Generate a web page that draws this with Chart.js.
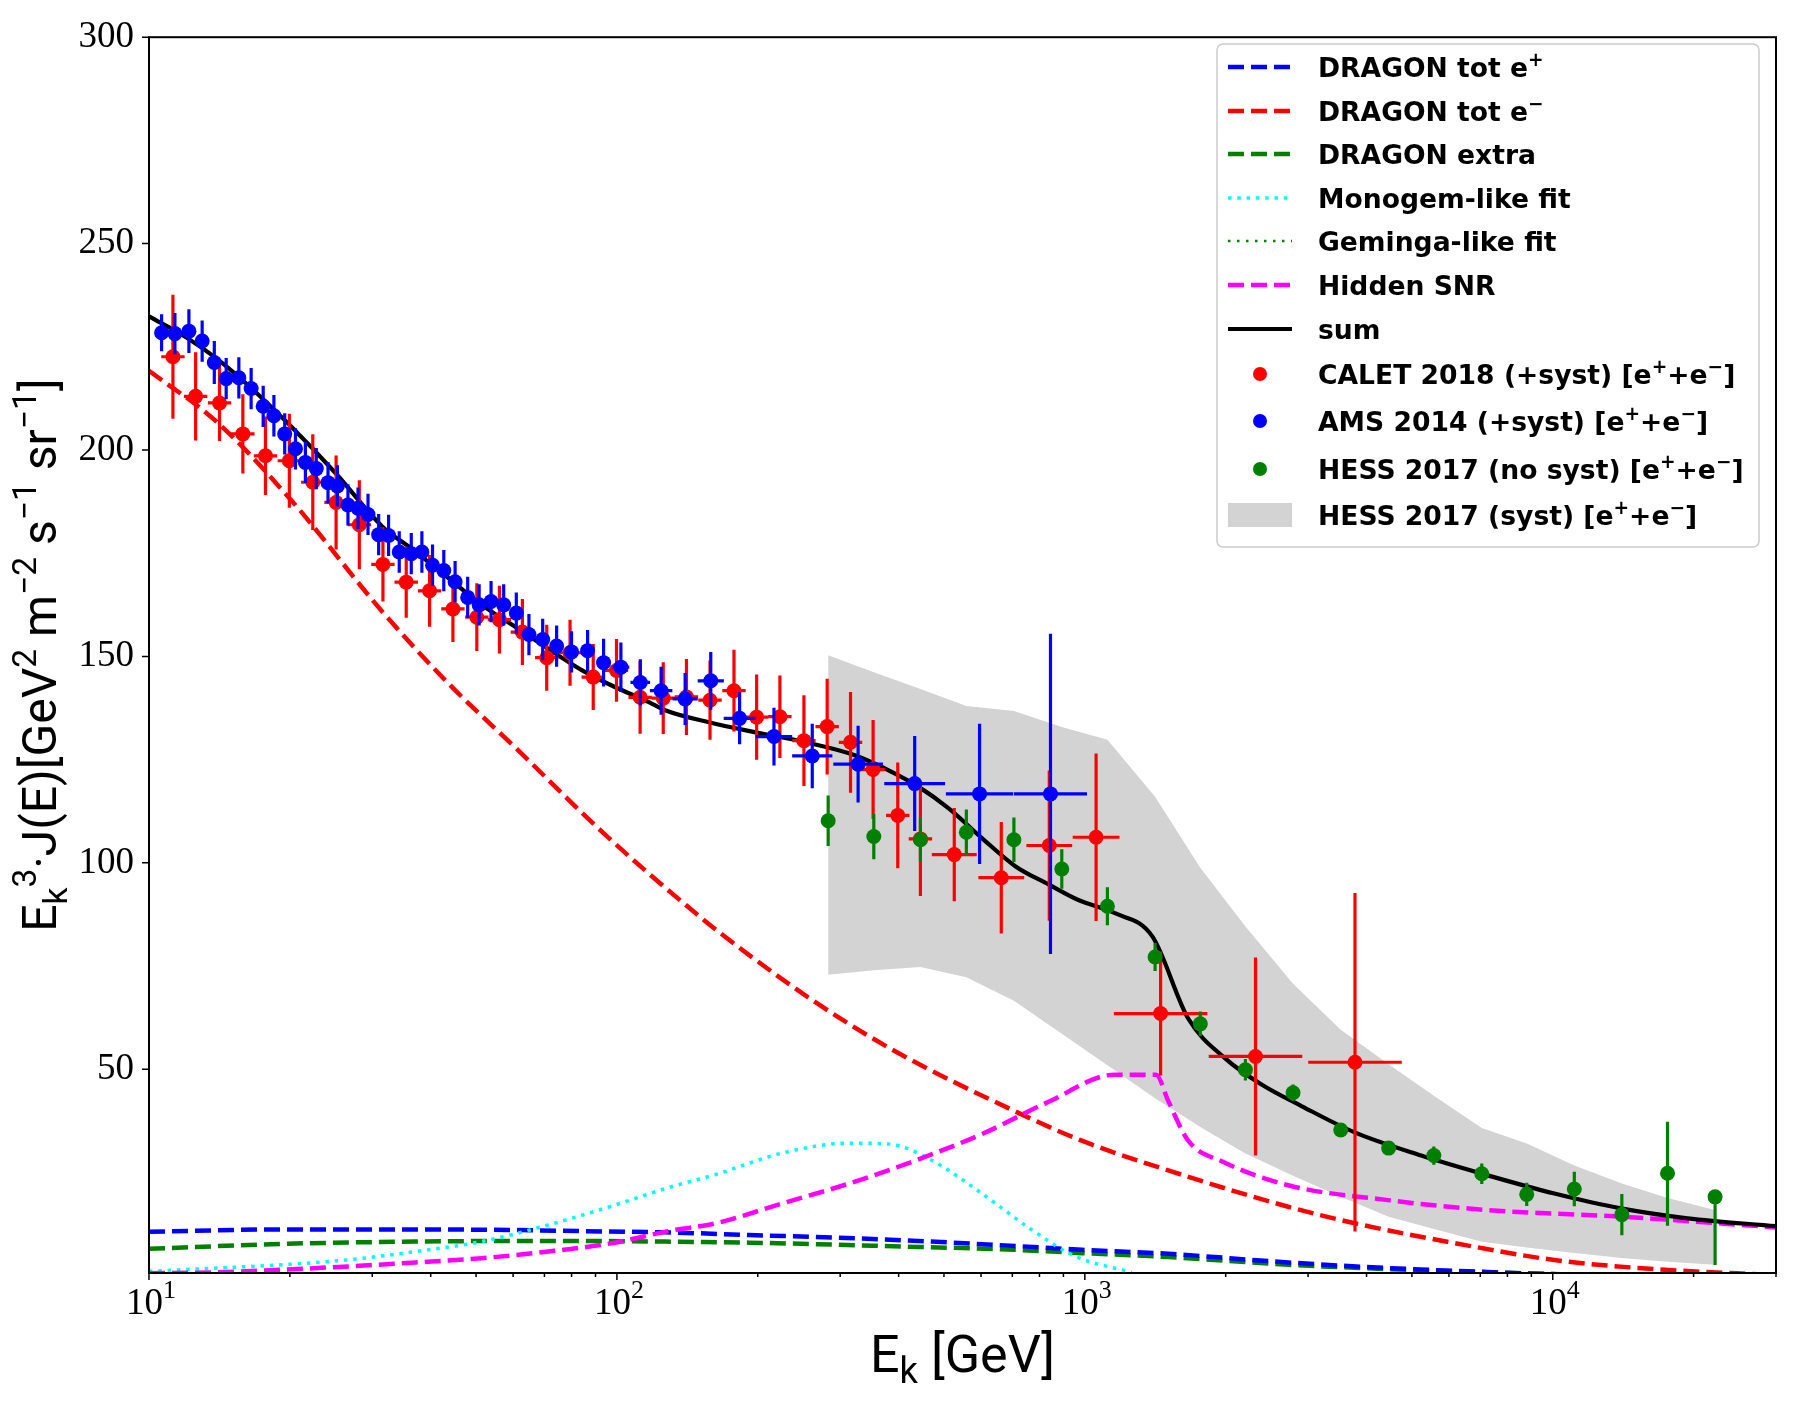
<!DOCTYPE html>
<html>
<head>
<meta charset="utf-8">
<title>Ek^3 J(E)</title>
<script src="https://cdn.jsdelivr.net/npm/chart.js@4.4.1/dist/chart.umd.min.js"></script>
<style>
  html, body { margin: 0; padding: 0; background: #fff; }
  canvas { display: block; }
</style>
</head>
<body>
<canvas id="spectrum" width="1799" height="1401" style="width:1799px;height:1401px"></canvas>
<script>
// axis ticks
const xTickValues = [10, 100, 1000, 10000];
const yTickValues = [50, 100, 150, 200, 250, 300];
const xMin = 10, xMax = 30000, yMin = 0.65, yMax = 300;

// AMS 2014 (+syst) e+ + e-
const amsE = [10.64, 11.36, 12.17, 12.99, 13.79, 14.62, 15.56, 16.53, 17.54, 18.49,
  19.50, 20.56, 21.59, 22.78, 24.13, 25.27, 26.62, 27.97, 29.38, 30.96,
  32.51, 34.26, 36.35, 38.30, 40.36, 42.66, 45.10, 47.98, 50.76, 53.83,
  57.28, 60.95, 64.86, 69.40, 74.33, 79.98, 86.57, 93.65, 101.98, 112.2,
  124.3, 139.9, 158.7, 182.9, 216.6, 261.5, 327.7, 432.9, 595.7, 844.5];
const amsFlux = [228.4, 228.2, 228.8, 226.4, 221.2, 217.3, 217.5, 214.9, 210.6, 208.3,
  203.9, 200.3, 197.0, 195.5, 192.1, 191.3, 186.7, 185.9, 184.4, 179.5,
  179.3, 175.3, 174.9, 175.3, 172.1, 170.8, 168.1, 164.3, 162.5, 163.3,
  162.5, 160.5, 155.3, 154.1, 152.5, 151.1, 151.4, 148.5, 147.4, 143.7,
  141.7, 139.7, 144.1, 135.0, 130.6, 125.9, 123.9, 119.2, 116.7, 116.7];
const amsErr = [4.5, 5, 5.3, 5, 5.2, 5, 5, 5, 5, 5,
  5, 5, 5, 5, 5, 5, 5, 5, 5, 5,
  5, 5, 5, 5, 5, 5, 5, 5, 5, 5,
  5, 5, 5, 5, 5, 5, 5, 5.8, 6, 5.6,
  5.8, 6.3, 7, 6.3, 7, 7.8, 9.3, 11.5, 17, 38.8];
// half bin width, in decades
const amsBin = [0.012, 0.012, 0.012, 0.012, 0.012, 0.012, 0.012, 0.012, 0.012, 0.012,
  0.012, 0.012, 0.012, 0.012, 0.012, 0.012, 0.012, 0.012, 0.012, 0.012,
  0.012, 0.012, 0.012, 0.012, 0.012, 0.012, 0.012, 0.012, 0.012, 0.012,
  0.012, 0.012, 0.012, 0.012, 0.012, 0.012, 0.012, 0.015, 0.018, 0.021,
  0.024, 0.027, 0.028, 0.034, 0.039, 0.043, 0.053, 0.065, 0.072, 0.078];

// CALET 2018 (+syst) e+ + e-
const calE = [11.25, 12.58, 14.15, 15.87, 17.74, 19.95, 22.39, 25.11, 28.15, 31.62,
  35.46, 39.78, 44.62, 50.19, 56.1, 62.8, 70.8, 79.4, 89.0, 99.8,
  112.1, 125.6, 140.8, 158.1, 177.9, 198.9, 223.0, 251.0, 281.4, 315.7,
  352.8, 398.3, 445.3, 526.0, 662.9, 839.5, 1057, 1452, 2316, 3779];
const calFlux = [222.6, 213.0, 211.4, 203.9, 198.6, 197.4, 192.2, 187.3, 181.9, 172.3,
  168.0, 165.9, 161.5, 159.5, 158.9, 155.9, 149.7, 150.9, 145.0, 146.6,
  140.1, 139.9, 140.2, 139.4, 141.7, 135.3, 135.4, 129.6, 133.0, 129.2,
  122.6, 111.5, 105.8, 102.0, 96.4, 104.2, 106.2, 63.5, 53.1, 51.7];
const calErr = [15, 10.7, 9.2, 9.6, 9.5, 11.4, 11.6, 11.4, 10.8, 9,
  8.6, 8.7, 8, 8.2, 8.2, 8, 8, 8, 8, 7.6,
  8.8, 8.7, 9.2, 9.6, 9.9, 10.3, 10, 11, 11.6, 12.2,
  12, 12.8, 13.8, 11.3, 13.5, 18.2, 20.3, 15, 24, 41];
const calBin = [0.025, 0.025, 0.025, 0.025, 0.025, 0.025, 0.025, 0.025, 0.025, 0.025,
  0.025, 0.025, 0.025, 0.025, 0.025, 0.025, 0.025, 0.025, 0.025, 0.025,
  0.025, 0.025, 0.025, 0.025, 0.025, 0.025, 0.025, 0.025, 0.025, 0.025,
  0.025, 0.025, 0.025, 0.048, 0.049, 0.049, 0.05, 0.1, 0.1, 0.1];

// HESS 2017 e+ + e-
const hessE = [282.8, 354.0, 445.3, 558.2, 705.4, 892.8, 1117.5, 1413, 1765, 2204,
  2786, 3523, 4459, 5570, 7052, 8798, 11120, 14050, 17590, 22230];
const hessFlux = [110.2, 106.4, 105.6, 107.4, 105.6, 98.5, 89.5, 77.2, 61.0, 49.9,
  44.3, 35.3, 30.9, 29.1, 24.7, 19.7, 21.0, 14.8, 24.8, 19.1];
const hessErrLo = [6.1, 5.5, 5.3, 5.5, 5.4, 4.8, 4.6, 3.4, 3, 2.6,
  2, 1.5, 1.5, 2.2, 2.5, 2.8, 4.2, 5, 12.7, 16.5];
const hessErrHi = [6.1, 5.5, 5.3, 5.5, 5.4, 4.8, 4.6, 3.4, 3, 2.6,
  2, 1.5, 1.5, 2.2, 2.5, 2.8, 4.2, 5, 12.5, 1.0];
const hessSystHi = [150.3, 146.2, 142.1, 138.0, 136.8, 132.9, 129.8, 116, 98.8, 84.6,
  70.7, 59.6, 51.2, 43.6, 35.8, 32.0, 26.7, 22.3, 18.8, 15.9];
const hessSystLo = [72.9, 74.0, 74.8, 72.3, 66.6, 58.6, 51.0, 43.0, 36.0, 29.6,
  24.2, 19.1, 14.3, 11.3, 8.2, 6.8, 5.5, 4.3, 3.4, 2.65];

// model curves
const sumE = [10, 12, 14, 16.35, 20.2, 25, 31.5, 36.5, 43.65, 51.4,
  60.6, 71.4, 84.1, 99.0, 116.7, 127.2, 157.3, 198, 253, 323.5,
  387.3, 441.6, 511.7, 602.6, 710, 836, 969, 1160, 1394, 1663,
  1992, 2386, 2904, 3773, 5235, 7263, 10080, 13985, 19410, 30000];
const sumFlux = [232.4, 227.3, 222.0, 215.5, 205.5, 194.5, 181.5, 176.0, 169.0, 162.5,
  157.2, 151.8, 146.7, 142.6, 139.0, 136.9, 134.05, 131.6, 129.2, 126.0,
  122.0, 118.4, 113.2, 106.0, 99.2, 94.8, 91.0, 87.8, 82.2, 62.3,
  52.7, 46.3, 41.1, 34.7, 29.1, 24.3, 19.9, 16.3, 13.9, 12.0];

const elecE = [10, 13.9, 19.9, 31.5, 43.6, 61.6, 93, 151, 192, 270,
  394, 710, 985, 1508, 2720, 3774, 6166, 10080, 16480, 29510];
const elecFlux = [219.2, 207.0, 188.5, 160.9, 143.5, 127.2, 107.5, 86.8, 77.6, 65.7,
  54.3, 39.8, 32.7, 25.5, 16.7, 12.7, 7.9, 3.8, 1.6, 0.2];

const dragonE = [10, 19.25, 37.1, 60.6, 84.1, 126.6, 191.6, 368.8, 710, 985,
  1508, 2720, 4445, 8556, 11500];
const posiFlux = [10.66, 11.2, 11.2, 11.06, 10.8, 10.5, 9.86, 8.8, 7.2, 6.26,
  5.3, 3.2, 1.85, 0.6, 0.2];
const extraFlux = [6.5, 7.7, 8.26, 8.4, 8.4, 8.26, 8.0, 7.2, 6.26, 5.46,
  4.5, 2.65, 1.6, 0.6, 0.2];

const monogemE = [10, 13.9, 19.25, 26.7, 37.1, 51.4, 71.4, 99, 128.7, 162.6,
  225.6, 313.2, 381, 471.7, 602.7, 770.5, 953.4, 1260];
const monogemFlux = [1.05, 1.85, 2.65, 3.85, 5.85, 8.26, 12.3, 17.1, 21.3, 24.5,
  29.7, 32.1, 31.9, 27.9, 19.9, 11.1, 4.7, 0.8];

const gemingaE = [];
const gemingaFlux = [];

const snrE = [10, 13.9, 19.25, 26.7, 37.1, 51.4, 71.4, 99, 128.7, 162.6,
  225.6, 313.2, 434.5, 602.7, 836, 1160, 1420, 1508, 1663, 1972,
  2720, 4445, 7263, 13985, 30000];
const snrFlux = [0.6, 0.8, 1.45, 2.25, 3.2, 4.25, 5.85, 8.0, 10.8, 12.7,
  17.5, 22.3, 27.9, 34.3, 42.1, 48.7, 48.7, 42.3, 32.7, 27.6,
  21.9, 18.3, 15.9, 14.3, 11.7];

// --- helpers ---
const toXY = (xs, ys) => xs.map((x, i) => ({ x: x, y: ys[i] }));

function curve(label, xs, ys, color, dash, width, order) {
  return {
    label: label, data: toXY(xs, ys), showLine: true,
    borderColor: color, backgroundColor: color, borderDash: dash, borderWidth: width,
    borderCapStyle: 'butt', pointRadius: 0, cubicInterpolationMode: 'monotone',
    fill: false, order: order
  };
}

function points(label, xs, ys, color, errLo, errHi, bin, order) {
  return {
    label: label, data: toXY(xs, ys), showLine: false,
    borderColor: color, backgroundColor: color, pointBackgroundColor: color,
    pointBorderWidth: 0, pointRadius: 7.5, errLo: errLo, errHi: errHi, bin: bin, order: order
  };
}

// small rich text: ^{..} superscript, _{..} subscript
function richParts(str) {
  const parts = [];
  const re = /([\^_])\{([^}]*)\}/g;
  let last = 0, m;
  while ((m = re.exec(str))) {
    if (m.index > last) parts.push({ t: str.slice(last, m.index), k: '' });
    parts.push({ t: m[2], k: m[1] });
    last = re.lastIndex;
  }
  if (last < str.length) parts.push({ t: str.slice(last), k: '' });
  return parts;
}
function richFont(k, f) {
  return (f.weight || 'normal') + ' ' + (k ? f.size * 0.7 : f.size) + 'px ' + f.family;
}
function richWidth(ctx, str, f) {
  let w = 0;
  for (const p of richParts(str)) { ctx.font = richFont(p.k, f); w += ctx.measureText(p.t).width; }
  return w;
}
function drawRich(ctx, str, x, y, f) {
  let cx = x;
  ctx.textAlign = 'left';
  ctx.textBaseline = 'alphabetic';
  for (const p of richParts(str)) {
    ctx.font = richFont(p.k, f);
    const dy = p.k === '^' ? -f.size * 0.42 : (p.k === '_' ? f.size * 0.22 : 0);
    ctx.fillText(p.t, cx, y + dy);
    cx += ctx.measureText(p.t).width;
  }
}

// error bars, drawn just under each data set's points
const errorBarPlugin = {
  id: 'errorBars',
  beforeDatasetDraw(chart, args) {
    const ds = chart.data.datasets[args.index];
    if (!ds.errLo) return;
    const { ctx, chartArea: a, scales: { x, y } } = chart;
    ctx.save();
    ctx.beginPath();
    ctx.rect(a.left, a.top, a.right - a.left, a.bottom - a.top);
    ctx.clip();
    ctx.strokeStyle = ds.borderColor;
    ctx.lineWidth = 3.2;
    ctx.beginPath();
    ds.data.forEach((p, i) => {
      const px = x.getPixelForValue(p.x);
      const py = y.getPixelForValue(p.y);
      ctx.moveTo(px, y.getPixelForValue(p.y - ds.errLo[i]));
      ctx.lineTo(px, y.getPixelForValue(p.y + ds.errHi[i]));
      if (ds.bin) {
        const f = Math.pow(10, ds.bin[i]);
        ctx.moveTo(x.getPixelForValue(p.x / f), py);
        ctx.lineTo(x.getPixelForValue(p.x * f), py);
      }
    });
    ctx.stroke();
    ctx.restore();
  }
};

// frame, ticks, tick labels and axis titles
const tickFont = { family: '"Liberation Serif", "DejaVu Serif", serif', size: 37 };
const titleFont = { family: 'Roboto, "Liberation Sans", sans-serif', size: 48 };
const xTitleFont = { family: 'Roboto, "Liberation Sans", sans-serif', size: 52 };
const framePlugin = {
  id: 'frame',
  afterDraw(chart) {
    const { ctx, chartArea: a, scales: { x, y } } = chart;
    ctx.save();
    ctx.strokeStyle = '#000';
    ctx.fillStyle = '#000';
    ctx.lineWidth = 2;
    ctx.strokeRect(a.left, a.top, a.right - a.left, a.bottom - a.top);

    ctx.lineWidth = 1.5;
    ctx.beginPath();
    for (let d = 1; d <= 4; d++) {
      for (let m = 1; m < 10; m++) {
        const v = m * Math.pow(10, d);
        if (v > x.max) break;
        const px = x.getPixelForValue(v);
        ctx.moveTo(px, a.bottom);
        ctx.lineTo(px, a.bottom + (m === 1 ? 7 : 4));
      }
    }
    for (const v of yTickValues) {
      const py = y.getPixelForValue(v);
      ctx.moveTo(a.left - 7, py);
      ctx.lineTo(a.left, py);
    }
    ctx.stroke();

    for (const v of xTickValues) {
      const s = '10^{' + Math.round(Math.log10(v)) + '}';
      const w = richWidth(ctx, s, tickFont);
      drawRich(ctx, s, x.getPixelForValue(v) - w / 2 + 2, a.bottom + 41, tickFont);
    }

    const xt = 'E_{k} [GeV]';
    const xw = richWidth(ctx, xt, xTitleFont);
    drawRich(ctx, xt, (a.left + a.right) / 2 - xw / 2, 1372, xTitleFont);

    const yt = 'E_{k}^{3}·J(E)[GeV^{2} m^{−2} s^{−1} sr^{−1}]';
    const yw = richWidth(ctx, yt, titleFont);
    ctx.translate(56, (a.top + a.bottom) / 2);
    ctx.rotate(-Math.PI / 2);
    drawRich(ctx, yt, -yw / 2, 0, titleFont);
    ctx.restore();
  }
};

// legend box in the upper right corner
const legendFont = { family: '"DejaVu Sans", sans-serif', size: 26.6, weight: 'bold' };
const legendPlugin = {
  id: 'cornerLegend',
  afterDraw(chart) {
    const ctx = chart.ctx;
    const box = { left: 1217, top: 44, right: 1759, bottom: 547 };
    const rows = [67, 111, 154, 198, 241, 285, 329, 374, 421, 469, 515];
    ctx.save();
    ctx.beginPath();
    ctx.roundRect(box.left, box.top, box.right - box.left, box.bottom - box.top, 6);
    ctx.fillStyle = 'rgba(255,255,255,0.85)';
    ctx.fill();
    ctx.strokeStyle = '#cccccc';
    ctx.lineWidth = 1.5;
    ctx.stroke();

    const items = chart.data.datasets.filter(ds => !ds.legendHide);
    items.forEach((ds, i) => {
      const cy = rows[i];
      if (ds.legendPatch) {
        ctx.fillStyle = ds.backgroundColor;
        ctx.fillRect(1228, cy - 12, 64, 24);
      } else if (ds.showLine) {
        ctx.strokeStyle = ds.borderColor;
        ctx.lineWidth = ds.borderWidth;
        ctx.setLineDash(ds.borderDash || []);
        ctx.lineCap = 'butt';
        ctx.beginPath();
        ctx.moveTo(1228, cy);
        ctx.lineTo(1292, cy);
        ctx.stroke();
        ctx.setLineDash([]);
      } else {
        ctx.fillStyle = ds.backgroundColor;
        ctx.beginPath();
        ctx.arc(1260, cy, 7, 0, Math.PI * 2);
        ctx.fill();
      }
      ctx.fillStyle = '#000';
      drawRich(ctx, ds.label, 1318, cy + 10, legendFont);
    });
    ctx.restore();
  }
};

const datasets = [
  curve('DRAGON tot e^{+}', dragonE, posiFlux, '#0000ff', [16, 7], 4.5, 9),
  curve('DRAGON tot e^{−}', elecE, elecFlux, '#ff0000', [16, 7], 4.5, 8),
  curve('DRAGON extra', dragonE, extraFlux, '#008000', [16, 7], 4.5, 9),
  curve('Monogem-like fit', monogemE, monogemFlux, '#00ffff', [3.5, 5.8], 3.5, 7),
  curve('Geminga-like fit', gemingaE, gemingaFlux, '#008000', [2.5, 6.5], 2.5, 7),
  curve('Hidden SNR', snrE, snrFlux, '#ff00ff', [16, 7], 4.5, 6),
  curve('sum', sumE, sumFlux, '#000000', [], 4.2, 5),
  points('CALET 2018 (+syst) [e^{+}+e^{−}]', calE, calFlux, '#ff0000', calErr, calErr, calBin, 3),
  points('AMS 2014 (+syst) [e^{+}+e^{−}]', amsE, amsFlux, '#0000ff', amsErr, amsErr, amsBin, 2),
  points('HESS 2017 (no syst) [e^{+}+e^{−}]', hessE, hessFlux, '#008000', hessErrLo, hessErrHi, null, 1),
  {
    label: 'HESS 2017 (syst) [e^{+}+e^{−}]', data: toXY(hessE, hessSystHi), showLine: true,
    borderWidth: 0, pointRadius: 0, borderColor: '#d3d3d3', backgroundColor: '#d3d3d3',
    fill: '+1', order: 20, legendPatch: true
  },
  {
    label: '', data: toXY(hessE, hessSystLo), showLine: true,
    borderWidth: 0, pointRadius: 0, borderColor: '#d3d3d3', backgroundColor: '#d3d3d3',
    fill: false, order: 21, legendHide: true
  }
];

const chart = new Chart(document.getElementById('spectrum').getContext('2d'), {
  type: 'scatter',
  data: { datasets: datasets },
  options: {
    responsive: false,
    animation: false,
    layout: { padding: { left: 0, right: 23, top: 28, bottom: 0 } },
    plugins: { legend: { display: false }, tooltip: { enabled: false } },
    scales: {
      x: {
        type: 'logarithmic', min: xMin, max: xMax,
        grid: { display: false, drawTicks: false }, border: { display: false },
        ticks: { display: false },
        afterBuildTicks: s => { s.ticks = xTickValues.map(v => ({ value: v, major: true })); },
        afterFit: s => { s.height = 128; }
      },
      y: {
        type: 'linear', min: yMin, max: yMax,
        grid: { display: false, drawTicks: false }, border: { display: false },
        ticks: { color: '#000', padding: 15, font: { family: tickFont.family, size: tickFont.size } },
        afterBuildTicks: s => { s.ticks = yTickValues.map(v => ({ value: v })); },
        afterFit: s => { s.width = 149; }
      }
    }
  },
  plugins: [errorBarPlugin, framePlugin, legendPlugin]
});
</script>
</body>
</html>
